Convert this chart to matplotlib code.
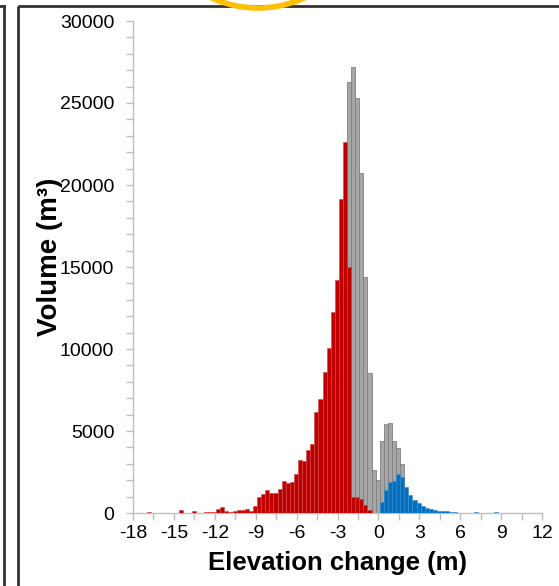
import numpy as np
import matplotlib
matplotlib.use("Agg")
import matplotlib.pyplot as plt
from matplotlib.ticker import MultipleLocator
from matplotlib.patches import Circle, Rectangle
from matplotlib.lines import Line2D

plt.rcParams['font.family'] = ['Liberation Sans', 'DejaVu Sans']
plt.rcParams['axes.unicode_minus'] = False

# histogram bins of 0.3 m
bin_width = 0.3

# lowering (red), first bin starts at -17.0 m
red_start = -17.0
red_vol = [80, 0, 0, 0, 0, 0, 0, 0, 200, 0, 0, 150, 0, 0, 40, 60, 90, 250, 380, 130,
           60, 130, 170, 200, 220, 150, 430, 960, 1180, 1380, 1240, 1250, 1450, 1950,
           1840, 1900, 2360, 3230, 3150, 3870, 4230, 6180, 6970, 8620, 10050, 12280,
           14210, 19140, 22650, 15030, 1000, 950, 850, 480, 200]

# uncertain change (gray), first bin starts at -2.3 m
gray_start = -2.3
gray_vol = [26250, 27220, 25290, 20710, 14410, 8560, 2620, 2000, 4400, 5410, 5460,
            4400, 3950, 2990]

# raising (blue), first bin starts at 0.1 m
blue_start = 0.1
blue_vol = [690, 1400, 1920, 1960, 2370, 2210, 1600, 1100, 770, 590, 430, 320, 225,
            180, 150, 120, 100, 60, 50, 30, 20, 0, 0, 40, 0, 0, 0, 0, 40]


def centers(start, vals):
    return start + bin_width * (np.arange(len(vals)) + 0.5)


fig = plt.figure(figsize=(5.59, 5.86), dpi=100)
ax = fig.add_axes([133 / 559, 73 / 586, 409 / 559, 492 / 586])

ax.bar(centers(gray_start, gray_vol), gray_vol, width=bin_width, color='#a6a6a6',
       edgecolor='#808080', linewidth=0.6, zorder=2)
ax.bar(centers(red_start, red_vol), red_vol, width=bin_width, color='#c00000',
       edgecolor='#d04545', linewidth=0.4, zorder=3)
ax.bar(centers(blue_start, blue_vol), blue_vol, width=bin_width, color='#0070c0',
       edgecolor='#3a8cd0', linewidth=0.4, zorder=3)

ax.set_xlim(-18, 12)
ax.set_ylim(0, 30000)
ax.xaxis.set_major_locator(MultipleLocator(3))
ax.xaxis.set_minor_locator(MultipleLocator(1.5))
ax.yaxis.set_major_locator(MultipleLocator(5000))
ax.yaxis.set_minor_locator(MultipleLocator(1000))

for s in ['top', 'right']:
    ax.spines[s].set_visible(False)
for s in ['left', 'bottom']:
    ax.spines[s].set_color('#bfbfbf')
    ax.spines[s].set_linewidth(1.0)

ax.tick_params(axis='both', which='both', color='#bfbfbf', length=5, width=1)
ax.tick_params(axis='y', which='major', labelsize=14, pad=8.5)
ax.tick_params(axis='x', which='major', labelsize=14, pad=4)

ax.set_xlabel('Elevation change (m)', fontsize=18.5, fontweight='bold', labelpad=6)
ax.set_ylabel('Volume (m³)', fontsize=20, fontweight='bold')
ax.yaxis.set_label_coords(-0.17, 0.52)

# frame and decorations from the surrounding figure
over = fig.add_axes([0, 0, 1, 1], facecolor='none')
over.set_xlim(0, 559)
over.set_ylim(586, 0)
over.axis('off')
over.add_patch(Rectangle((18, 6), 560, 600, fill=False, edgecolor='#333333', linewidth=2))
over.add_line(Line2D([4, 4], [6, 586], color='#333333', linewidth=2))
over.add_line(Line2D([0, 4], [6, 6], color='#333333', linewidth=2))
over.add_patch(Circle((258, -104), 112, fill=False, edgecolor='#ffc000', linewidth=4))

fig.savefig('out.png', dpi=100)
